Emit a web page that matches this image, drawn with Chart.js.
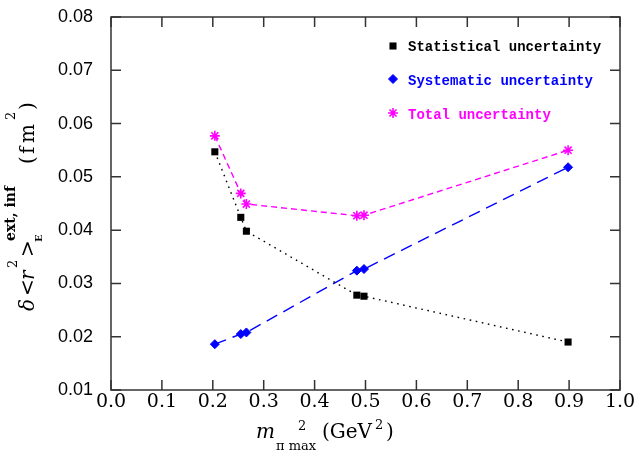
<!DOCTYPE html>
<html>
<head>
<meta charset="utf-8">
<title>Uncertainty vs m_pi max^2</title>
<script src="https://cdn.jsdelivr.net/npm/chart.js@4.4.0/dist/chart.umd.min.js"></script>
<style>
  html, body { margin: 0; padding: 0; background: #fff; }
  #wrap { width: 634px; height: 450px; }
</style>
</head>
<body>
<div id="wrap"><canvas id="uncChart" width="634" height="450"></canvas></div>
<script>
// values
const mPiMax2 = [0.204, 0.255, 0.266, 0.483, 0.497, 0.898];   // GeV^2
const statUnc = [0.0547, 0.0424, 0.0398, 0.0278, 0.0276, 0.0190];
const sysUnc  = [0.0186, 0.0205, 0.0208, 0.0324, 0.0327, 0.0518];
const totUnc  = [0.0577, 0.0469, 0.0449, 0.0427, 0.0428, 0.0550];
const seriesNames = ['Statistical uncertainty', 'Systematic uncertainty', 'Total uncertainty'];
const xTicks = [0.0, 0.1, 0.2, 0.3, 0.4, 0.5, 0.6, 0.7, 0.8, 0.9, 1.0];
const yTicks = [0.01, 0.02, 0.03, 0.04, 0.05, 0.06, 0.07, 0.08];

const BLUE = '#0000ff';
const MAGENTA = '#ff00ff';

function toPoints(ys) {
    return mPiMax2.map((x, i) => ({ x: x, y: ys[i] }));
}

// draws a list of text pieces (for the sub/superscripts in the axis titles)
function drawPieces(ctx, pieces) {
    ctx.textAlign = 'left';
    ctx.textBaseline = 'alphabetic';
    pieces.forEach(p => {
        ctx.font = p.font;
        ctx.fillText(p.t, p.at, p.shift || 0);
    });
}

const SERIF = '"DejaVu Serif", serif';
const MAIN = '20px ' + SERIF;
const ITAL = 'italic 20px ' + SERIF;
const SUP = '13px ' + SERIF;

const frameAndLabels = {
    id: 'frameAndLabels',
    afterDraw(chart) {
        const ctx = chart.ctx;
        const a = chart.chartArea;
        const xs = chart.scales.x, ys = chart.scales.y;
        ctx.save();

        // frame + inward ticks on all four sides
        ctx.strokeStyle = '#333';
        ctx.lineWidth = 1.5;
        ctx.strokeRect(a.left, a.top, a.right - a.left, a.bottom - a.top);
        ctx.beginPath();
        xs.ticks.forEach(t => {
            const px = xs.getPixelForValue(t.value);
            ctx.moveTo(px, a.bottom); ctx.lineTo(px, a.bottom - 10);
            ctx.moveTo(px, a.top); ctx.lineTo(px, a.top + 10);
        });
        ys.ticks.forEach(t => {
            const py = ys.getPixelForValue(t.value);
            ctx.moveTo(a.left, py); ctx.lineTo(a.left + 10, py);
            ctx.moveTo(a.right, py); ctx.lineTo(a.right - 10, py);
        });
        ctx.stroke();

        // legend, top right inside the plot
        const rows = [
            { ds: chart.data.datasets[0], y: 46, base: 51 },
            { ds: chart.data.datasets[1], y: 79, base: 84.5 },
            { ds: chart.data.datasets[2], y: 113, base: 118.5 }
        ];
        rows.forEach(r => {
            const ds = r.ds;
            ctx.fillStyle = ds.backgroundColor;
            ctx.strokeStyle = ds.borderColor;
            ctx.lineWidth = ds.pointBorderWidth || 1;
            ctx.setLineDash([]);
            if (Chart.helpers && Chart.helpers.drawPoint) {
                Chart.helpers.drawPoint(ctx, {
                    pointStyle: ds.pointStyle, radius: ds.pointRadius,
                    borderWidth: ds.pointBorderWidth, rotation: 0
                }, 393, r.y);
            }
            ctx.font = 'bold 14px "Liberation Mono", monospace';
            ctx.textAlign = 'left';
            ctx.textBaseline = 'alphabetic';
            ctx.fillText(ds.label, 408, r.base);
        });

        // y axis title: δ<r²>_E^{ext, inf} (fm²)
        ctx.fillStyle = '#000';
        ctx.save();
        ctx.translate(34, 312);
        ctx.rotate(-Math.PI / 2);
        drawPieces(ctx, [
            { t: 'δ', at: 1, font: ITAL },
            { t: '<', at: 16, font: MAIN },
            { t: 'r', at: 32, font: ITAL },
            { t: '2', at: 44, shift: -17, font: SUP },
            { t: '>', at: 55, font: MAIN },
            { t: 'E', at: 70, shift: 8, font: 'bold 10px ' + SERIF },
            { t: 'ext, inf', at: 71, shift: -19, font: 'bold 14px ' + SERIF },
            { t: '(', at: 148, font: MAIN },
            { t: 'f', at: 158, font: MAIN },
            { t: 'm', at: 169, font: MAIN },
            { t: '2', at: 192, shift: -19, font: SUP },
            { t: ')', at: 202, font: MAIN }
        ]);
        ctx.restore();

        // x axis title: m_{π max}² (GeV²)
        ctx.save();
        ctx.translate(0, 438);
        drawPieces(ctx, [
            { t: 'm', at: 256, font: ITAL },
            { t: 'π max', at: 276, shift: 12, font: SUP },
            { t: '2', at: 298, shift: -8, font: SUP },
            { t: '(GeV', at: 322, font: MAIN },
            { t: '2', at: 375, shift: -9, font: SUP },
            { t: ')', at: 386, font: MAIN }
        ]);
        ctx.restore();

        ctx.restore();
    }
};

const ctx = document.getElementById('uncChart').getContext('2d');
const uncChart = new Chart(ctx, {
    type: 'scatter',
    data: {
        datasets: [
            {
                label: seriesNames[0],
                data: toPoints(statUnc),
                showLine: true,
                borderColor: '#000',
                backgroundColor: '#000',
                borderWidth: 1.4,
                borderDash: [1.6, 4.6],
                pointStyle: 'rect',
                pointRadius: 5,
                pointBorderWidth: 0,
                pointHoverRadius: 5
            },
            {
                label: seriesNames[1],
                data: toPoints(sysUnc),
                showLine: true,
                borderColor: BLUE,
                backgroundColor: BLUE,
                borderWidth: 1.4,
                borderDash: [12, 7],
                pointStyle: 'rectRot',
                pointRadius: 4.5,
                pointBorderWidth: 1,
                pointHoverRadius: 4.5
            },
            {
                label: seriesNames[2],
                data: toPoints(totUnc),
                showLine: true,
                borderColor: MAGENTA,
                backgroundColor: MAGENTA,
                borderWidth: 1.4,
                borderDash: [6, 4],
                pointStyle: 'star',
                pointRadius: 5,
                pointBorderWidth: 1.6,
                pointHoverRadius: 5
            }
        ]
    },
    options: {
        responsive: false,
        animation: false,
        events: [],
        layout: {
            autoPadding: false,
            padding: { left: 0, right: 14, top: 17, bottom: 0 }
        },
        plugins: {
            legend: { display: false },
            tooltip: { enabled: false }
        },
        scales: {
            x: {
                type: 'linear',
                min: 0,
                max: 1,
                afterFit(scale) {
                    scale.height = 60;
                    scale.paddingLeft = 0; scale.paddingRight = 0;
                },
                afterBuildTicks(scale) { scale.ticks = xTicks.map(v => ({ value: v })); },
                grid: { display: false, drawTicks: false },
                border: { display: false },
                ticks: {
                    padding: 1,
                    color: '#000',
                    font: { family: '"DejaVu Serif"', size: 19 },
                    maxRotation: 0,
                    autoSkip: false,
                    callback: v => v.toFixed(1)
                }
            },
            y: {
                type: 'linear',
                min: 0.01,
                max: 0.08,
                afterFit(scale) {
                    scale.width = 111;
                    scale.paddingTop = 0; scale.paddingBottom = 0;
                },
                afterBuildTicks(scale) { scale.ticks = yTicks.map(v => ({ value: v })); },
                grid: { display: false, drawTicks: false },
                border: { display: false },
                ticks: {
                    padding: 18,
                    color: '#000',
                    font: { family: '"Liberation Sans"', size: 18 },
                    autoSkip: false,
                    callback: v => v.toFixed(2)
                }
            }
        }
    },
    plugins: [frameAndLabels]
});
</script>
</body>
</html>
